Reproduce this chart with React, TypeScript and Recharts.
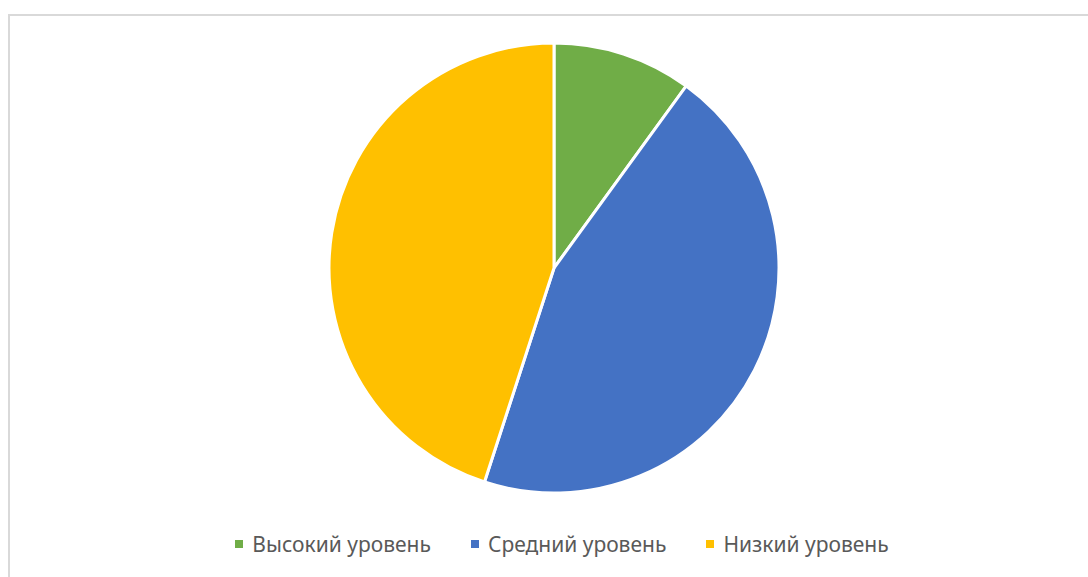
import { Cell, Legend, Pie, PieChart } from "recharts"

const levels = ["Высокий уровень", "Средний уровень", "Низкий уровень"]
const shares = [10, 45, 45]
const colors = ["#70AD47", "#4472C4", "#FFC000"]

const data = levels.map((name, i) => ({ name, value: shares[i] }))

// legend drawn in data order (recharts sorts payload by name otherwise)
function LegendRow() {
  return (
    <div style={{ display: "flex", justifyContent: "center", alignItems: "center", paddingLeft: 26 }}>
      {levels.map((name, i) => (
        <div
          key={name}
          style={{ display: "flex", alignItems: "center", marginRight: i < levels.length - 1 ? 40 : 0 }}
        >
          <span style={{ width: 8, height: 8, background: colors[i], marginRight: 9, display: "inline-block" }} />
          <span style={{ fontSize: 21, color: "#595959" }}>{name}</span>
        </div>
      ))}
    </div>
  )
}

export default function App() {
  return (
    <div
      style={{
        position: "absolute",
        left: 8,
        top: 14,
        width: 1080,
        height: 563,
        boxSizing: "border-box",
        borderTop: "2px solid #d9d9d9",
        borderLeft: "2px solid #d9d9d9",
        background: "#fff",
        fontFamily: "'Noto Sans', sans-serif",
      }}
    >
      <PieChart width={1078} height={561} margin={{ top: 0, right: 0, bottom: 0, left: 0 }}>
        <Pie
          data={data}
          dataKey="value"
          nameKey="name"
          cx={544}
          cy={252}
          outerRadius={225}
          startAngle={90}
          endAngle={-270}
          stroke="#fff"
          strokeWidth={3}
          isAnimationActive={false}
        >
          {data.map((d, i) => (
            <Cell key={d.name} fill={colors[i]} />
          ))}
        </Pie>
        <Legend
          verticalAlign="bottom"
          content={LegendRow}
          wrapperStyle={{ top: 514, bottom: "auto", left: 0, width: 1078 }}
        />
      </PieChart>
    </div>
  )
}
